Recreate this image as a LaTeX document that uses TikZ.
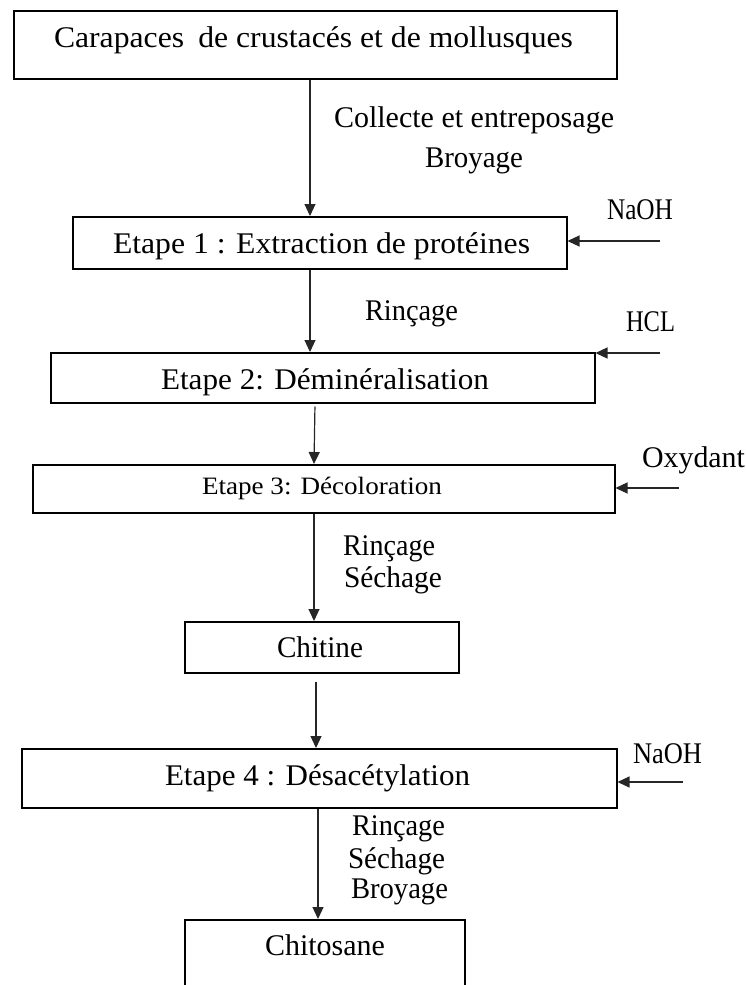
\documentclass[tikz,border=0pt]{standalone}
\usepackage{fontspec}
\setmainfont{Liberation Serif}
\usetikzlibrary{arrows.meta,calc}
\newcommand{\fitw}[2]{\resizebox{#1pt}{\height}{#2}}
\begin{document}
\begin{tikzpicture}[x=1pt,y=-1pt,
  stepbox/.style={draw=black, line width=1.5pt, rectangle, inner sep=0pt, anchor=north west},
  lbl/.style={anchor=base west, inner sep=0pt, outer sep=0pt, font=\fontsize{30}{34}\selectfont},
  smalllbl/.style={lbl, font=\fontsize{25}{29}\selectfont},
  arr/.style={draw=black!85, line width=1.2pt, -{Triangle[length=12pt,width=11pt]}}]
\useasboundingbox (0,0) rectangle (745,985);
\clip (0,0) rectangle (745,985);

% boxes
\node[stepbox, minimum width=603pt, minimum height=68pt] (top) at (13,10) {};
\node[stepbox, minimum width=494pt, minimum height=52pt] (e1) at (72,216) {};
\node[stepbox, minimum width=544pt, minimum height=50pt] (e2) at (50,352) {};
\node[stepbox, minimum width=582pt, minimum height=48pt] (e3) at (32,464) {};
\node[stepbox, minimum width=274pt, minimum height=51pt] (chi) at (184,621) {};
\node[stepbox, minimum width=595pt, minimum height=59pt] (e4) at (21,748) {};
\node[stepbox, minimum width=280pt, minimum height=90pt] (chs) at (184,919) {};

% texts
\node[lbl] (t0) at (54,47) {\fitw{519}{Carapaces\hspace{0.2em} de crustacés et de mollusques}};
\node[lbl] (t1) at (334,127) {\fitw{280}{Collecte et entreposage}};
\node[lbl] (t2) at (425,167) {\fitw{98}{Broyage}};
\node[lbl] (naoh1) at (607,219) {\fitw{66}{NaOH}};
\node[lbl] (te1) at (113,253) {\fitw{417}{Etape 1 : Extraction de protéines}};
\node[lbl] (r1) at (365,320) {\fitw{93}{Rinçage}};
\node[lbl] (hcl) at (626,331) {\fitw{49}{HCL}};
\node[lbl] (te2) at (161,389) {\fitw{328}{Etape 2: Déminéralisation}};
\node[lbl] (ox) at (642,467) {\fitw{103}{Oxydant}};
\node[smalllbl] (te3) at (202,494) {\fitw{240}{Etape 3: Décoloration}};
\node[lbl] (r2) at (343,555) {\fitw{92}{Rinçage}};
\node[lbl] (s2) at (344,587) {\fitw{98}{Séchage}};
\node[lbl] (tchi) at (277,657) {\fitw{86}{Chitine}};
\node[lbl] (te4) at (165,785) {\fitw{305}{Etape 4 : Désacétylation}};
\node[lbl] (naoh2) at (633,763) {\fitw{69}{NaOH}};
\node[lbl] (r3) at (352,835) {\fitw{93}{Rinçage}};
\node[lbl] (s3) at (348,868) {\fitw{97}{Séchage}};
\node[lbl] (b3) at (351,898) {\fitw{97}{Broyage}};
\node[lbl] (tchs) at (265,955) {\fitw{120}{Chitosane}};

% vertical connectors
\coordinate (x1) at (310,0);
\coordinate (x2) at (315,0);
\coordinate (x3) at (314,0);
\coordinate (x4) at (316,0);
\coordinate (x5) at (318,0);
\draw[arr] (top.south -| x1) -- (e1.north -| x1);
\draw[arr] (e1.south -| x1) -- (e2.north -| x1);
\draw[arr, shorten <=3pt] (e2.south -| x2) -- (e3.north -| x3);
\draw[arr] (e3.south -| x3) -- (chi.north -| x3);
\draw[arr, shorten <=8pt] (chi.south -| x4) -- (e4.north -| x4);
\draw[arr] (e4.south -| x5) -- (chs.north -| x5);

% side inputs
\coordinate (in1) at (660,241);
\coordinate (in2) at (660,353);
\coordinate (in3) at (679,488);
\coordinate (in4) at (683,782);
\draw[arr] (in1) -- (in1 -| e1.east);
\draw[arr] (in2) -- (in2 -| e2.east);
\draw[arr] (in3) -- (in3 -| e3.east);
\draw[arr] (in4) -- (in4 -| e4.east);
\end{tikzpicture}
\end{document}
